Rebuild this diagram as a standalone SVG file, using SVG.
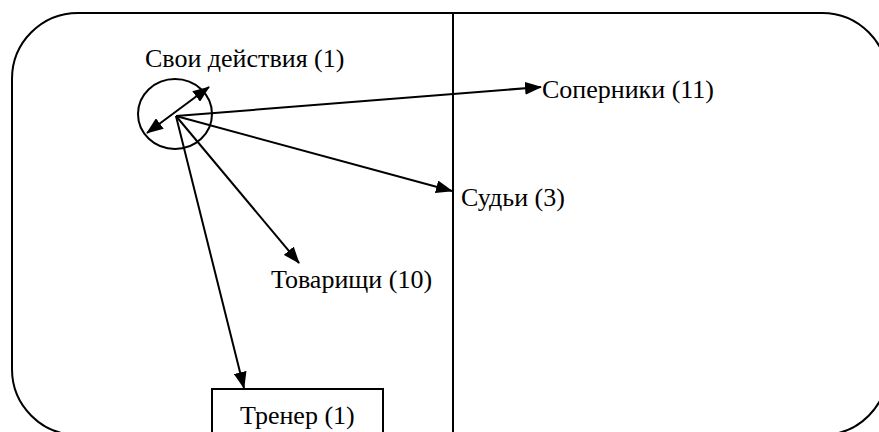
<svg xmlns="http://www.w3.org/2000/svg" width="879" height="432" viewBox="0 0 879 432">
<style>
.ln{stroke:#000;stroke-width:2;fill:none}
.t{font-family:"Liberation Serif","Times New Roman",serif;font-size:26px;fill:#000}
</style>
<defs>
<marker id="ah" markerUnits="userSpaceOnUse" markerWidth="17" markerHeight="13" refX="16" refY="6.5" orient="auto-start-reverse" viewBox="0 0 17 13">
<path d="M0,0 L17,6.5 L0,13 Z" fill="#000"/>
</marker>
</defs>
<rect x="12" y="13" width="876" height="422" rx="66" ry="66" class="ln"/>
<line x1="453" y1="13" x2="453" y2="432" class="ln"/>
<g id="self">
<ellipse cx="175" cy="114" rx="37" ry="35" class="ln"/>
<text class="t" x="145" y="67">Свои действия (1)</text>
</g>
<g id="rivals"><text class="t" x="542" y="98">Соперники (11)</text></g>
<g id="judges"><text class="t" x="461" y="206">Судьи (3)</text></g>
<g id="mates"><text class="t" x="271" y="288">Товарищи (10)</text></g>
<g id="coach">
<rect x="212" y="389" width="171" height="60" class="ln"/>
<text class="t" x="240" y="424">Тренер (1)</text>
</g>
<g id="connectors">
<line x1="147" y1="133" x2="209" y2="87" class="ln" marker-start="url(#ah)" marker-end="url(#ah)"/>
<line x1="176" y1="116" x2="541" y2="87" class="ln" marker-end="url(#ah)"/>
<line x1="176" y1="116" x2="452" y2="191" class="ln" marker-end="url(#ah)"/>
<line x1="176" y1="116" x2="299" y2="263" class="ln" marker-end="url(#ah)"/>
<line x1="176" y1="116" x2="244" y2="388" class="ln" marker-end="url(#ah)"/>
</g>
</svg>
